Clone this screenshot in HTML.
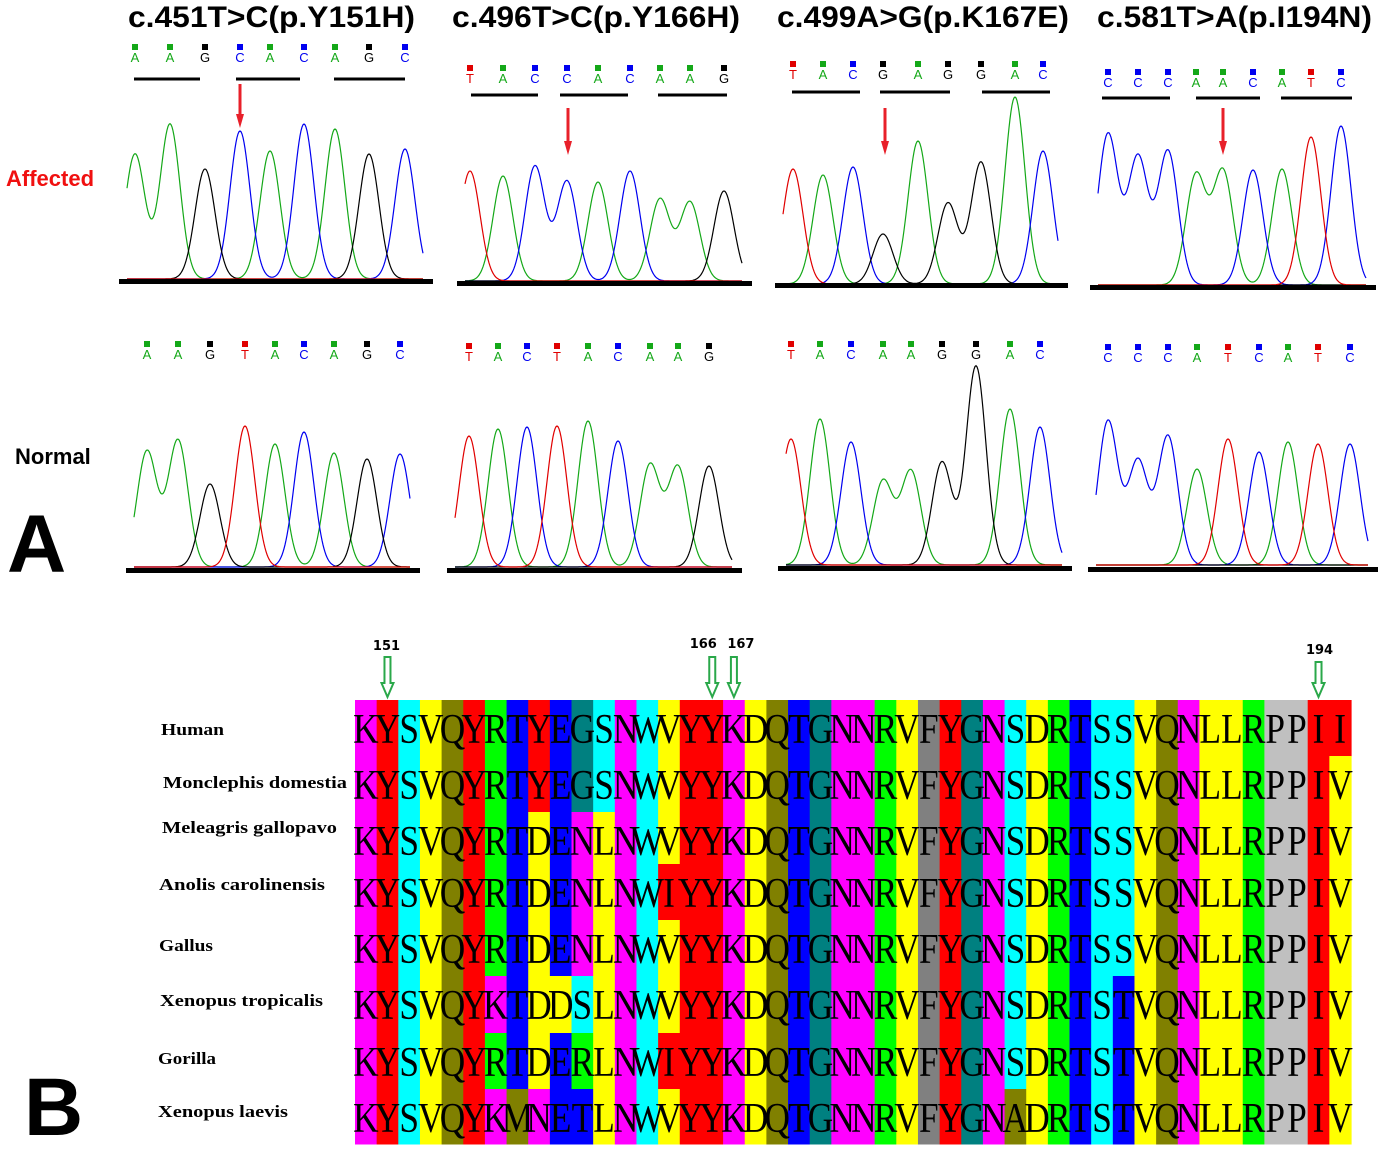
<!DOCTYPE html>
<html><head><meta charset="utf-8">
<style>
html,body{margin:0;padding:0;background:#fff;}
svg{display:block;}
</style></head>
<body>
<svg id="fig" width="1384" height="1152" viewBox="0 0 1384 1152" xmlns="http://www.w3.org/2000/svg">
<rect width="1384" height="1152" fill="#fff"/>
<g id="topPanel"></g>
<g id="bottomPanel"></g>
</svg>
<script>
// ---------- Panel A chromatogram data ----------
const titles = ["c.451T>C(p.Y151H)","c.496T>C(p.Y166H)","c.499A>G(p.K167E)","c.581T>A(p.I194N)"];
const titleX = [128,452,777,1097];
const titleW = [287,288,292,275];
const affBases = ["AAGCACAGC","TACCACAAG","TACGAGGAC","CCCAACATC"];
const affPeakX = [[135,170,205,240,270,304,335,369,405],[470,503,535,567,598,630,660,690,724],[793,823,853,883,918,948,981,1015,1043],[1108,1138,1168,1196,1223,1253,1282,1311,1341]];
const affPeakY = [[155,125,170,132,152,125,130,155,150],[172,177,167,182,183,172,200,203,192],[170,176,168,235,142,204,163,98,152],[135,158,152,176,172,171,170,138,127]];
const affLabelY = [47,68,64,72];
const affBase = [280,282,285,286];
const affBar = [[119,433,281],[457,752,283],[775,1068,285],[1090,1376,287]];
const affUnder = [[[134,200],[236,300],[334,405]],[[471,538],[560,628],[658,727]],[[792,860],[880,950],[982,1050]],[[1102,1170],[1196,1260],[1281,1352]]];
const affUnderY = [79,95,92,98];
const arrowX = [240,568,885,1223];
const arrowY = [[84,128],[108,155],[108,155],[108,155]];
const normBases = ["AAGTACAGC","TACTACAAG","TACAAGGAC","CCCATCATC"];
const normPeakX = [[147,178,210,245,275,304,334,367,400],[469,498,527,557,588,618,650,678,709],[791,820,851,883,911,942,976,1010,1040],[1108,1138,1168,1197,1228,1259,1288,1318,1350]];
const normPeakY = [[452,441,485,427,445,433,454,460,455],[437,430,428,427,422,442,466,468,467],[440,420,443,482,472,463,367,410,428],[422,462,437,470,440,453,443,445,445]];
const normLabelY = [344,346,344,347];
const normBase = [568,568,566,566];
const normBar = [[126,420,570],[447,742,570],[778,1072,568],[1088,1378,569]];

// ---------- Panel B alignment data ----------
const species = ["Human","Monclephis domestia","Meleagris gallopavo","Anolis carolinensis","Gallus","Xenopus tropicalis","Gorilla","Xenopus laevis"];
const seqs = [
"KYSVQYRTYEGSNWVYYKDQTGNNRVFYGNSDRTSSVQNLLRPPII",
"KYSVQYRTYEGSNWVYYKDQTGNNRVFYGNSDRTSSVQNLLRPPIV",
"KYSVQYRTDENLNWVYYKDQTGNNRVFYGNSDRTSSVQNLLRPPIV",
"KYSVQYRTDENLNWIYYKDQTGNNRVFYGNSDRTSSVQNLLRPPIV",
"KYSVQYRTDENLNWVYYKDQTGNNRVFYGNSDRTSSVQNLLRPPIV",
"KYSVQYKTDDSLNWVYYKDQTGNNRVFYGNSDRTSTVQNLLRPPIV",
"KYSVQYRTDERLNWIYYKDQTGNNRVFYGNSDRTSTVQNLLRPPIV",
"KYSVQYKMNETLNWVYYKDQTGNNRVFYGNADRTSTVQNLLRPPIV"];
const markLabels = ["151","166","167","194"];
const markCols = [1,16,17,44];

const NS="http://www.w3.org/2000/svg";
function mk(tag, attrs, parent, txt){
  const el=document.createElementNS(NS,tag);
  for(const k in attrs) el.setAttribute(k,attrs[k]);
  if(txt!==undefined) el.textContent=txt;
  parent.appendChild(el); return el;
}
const baseColor={A:"#14a818",C:"#0000f0",G:"#000000",T:"#e00000"};
const topG=document.getElementById('topPanel');
const bottomG=document.getElementById('bottomPanel');

function chromatogram(parent, bases, px, py, labelY, baseY, bar, name){
  const g=mk('g',{},parent);
  
  
  for(let i=0;i<bases.length;i++){
    const b=bases[i];
    const sq=mk('rect',{x:px[i]-3,y:labelY-3,width:6,height:6,fill:baseColor[b]},g);
    
    
    const t=mk('text',{x:px[i],y:labelY+15,'text-anchor':'middle','font-family':'Liberation Sans, sans-serif','font-size':13,fill:baseColor[b]},g,b);
    
    
  }
  const x0=bar[0]+8, x1=bar[1]-10, sig=10;
  for(const c of ["A","C","G","T"]){
    let d="";
    for(let x=x0;x<=x1;x+=1){
      let v=0;
      for(let i=0;i<bases.length;i++){
        if(bases[i]!==c) continue;
        const h=baseY-py[i];
        v+=h*Math.exp(-Math.pow(x-px[i],2)/(2*sig*sig));
      }
      const y=baseY-1-v;
      d+=(d?"L":"M")+x+" "+y.toFixed(1);
    }
    const p=mk('path',{d:d,fill:'none',stroke:baseColor[c],'stroke-width':1.2},g);
    
    
  }
  const br=mk('rect',{x:bar[0],y:bar[2]-2,width:bar[1]-bar[0],height:5,fill:'#000'},g);
  
  
  return g;
}

for(let k=0;k<4;k++){
  const t=mk('text',{x:titleX[k],y:27,'font-family':'Liberation Sans, sans-serif','font-weight':'bold','font-size':30,textLength:titleW[k],lengthAdjust:'spacingAndGlyphs',fill:'#000'},topG,titles[k]);
  
  
  const g=chromatogram(topG,affBases[k],affPeakX[k],affPeakY[k],affLabelY[k],affBase[k],affBar[k],'affected-chromatogram');
  for(const u of affUnder[k]){
    const r=mk('rect',{x:u[0],y:affUnderY[k]-1.5,width:u[1]-u[0],height:3,fill:'#000'},g);
    
    
  }
  const ax=arrowX[k], ay=arrowY[k];
  const ar=mk('path',{d:`M${ax-1.5} ${ay[0]}H${ax+1.5}V${ay[1]-14}L${ax+4} ${ay[1]-14}L${ax} ${ay[1]}L${ax-4} ${ay[1]-14}H${ax-1.5}Z`,fill:'#e8202a'},g);
  
  
  chromatogram(topG,normBases[k],normPeakX[k],normPeakY[k],normLabelY[k],normBase[k],normBar[k],'normal-chromatogram');
}
let lab;
lab=mk('text',{x:6,y:186,'font-family':'Liberation Sans, sans-serif','font-weight':'bold','font-size':22,fill:'#f01010'},topG,'Affected');


lab=mk('text',{x:15,y:464,'font-family':'Liberation Sans, sans-serif','font-weight':'bold','font-size':22,fill:'#000'},topG,'Normal');


lab=mk('text',{x:7,y:572,'font-family':'Liberation Sans, sans-serif','font-weight':'bold','font-size':82,fill:'#000'},topG,'A');


lab=mk('text',{x:24,y:1135,'font-family':'Liberation Sans, sans-serif','font-weight':'bold','font-size':82,fill:'#000'},bottomG,'B');



// ---------- alignment ----------
const resColor={K:"#ff00ff",N:"#ff00ff",Y:"#ff0000",I:"#ff0000",S:"#00ffff",W:"#00ffff",V:"#ffff00",D:"#ffff00",L:"#ffff00",Q:"#808000",M:"#808000",A:"#808000",R:"#00ff00",T:"#0000ff",E:"#0000ff",G:"#008080",F:"#808080",P:"#c0c0c0"};
const ax0=355, ax1=1351, ncol=seqs[0].length, cw=(ax1-ax0)/ncol;
const rowB=[700,756,812,864,920,976,1033,1089,1144];
const labelBase=[735,788,833,890,951,1006,1064,1117];
const labelX=[161,163,162,159,159,160,158,158];
const labelW=[63,184,175,166,54,163,58,130];
const xCol=i=>ax0+i*cw;
const cells=mk('g',{},bottomG);


for(let r=0;r<seqs.length;r++){
  const y0=rowB[r], y1=rowB[r+1];
  for(let i=0;i<ncol;i++){
    const ch=seqs[r][i];
    const c=mk('rect',{x:xCol(i).toFixed(2),y:y0,width:(cw+0.6).toFixed(2),height:y1-y0+0.5,fill:resColor[ch]||'#fff'},cells);
    
    
  }
}
for(let r=0;r<seqs.length;r++){
  const by=rowB[r]+43;
  for(let i=0;i<ncol;i++){
    const ch=seqs[r][i];
    const t=mk('text',{transform:`translate(${(xCol(i)+cw/2).toFixed(2)},${by}) scale(0.84,1)`,'text-anchor':'middle','font-family':'Liberation Serif, serif','font-size':42,fill:'#000'},cells,ch);
    
    
  }
  const s=mk('text',{x:labelX[r],y:labelBase[r],'font-family':'Liberation Serif, serif','font-weight':'bold','font-size':17,textLength:labelW[r],lengthAdjust:'spacingAndGlyphs',fill:'#000'},bottomG,species[r]);
  
  
}
const markTop=[657,657,657,662];
const numY=[650,648,648,654];
const numDx=[0,-8,8,2];
for(let m=0;m<markLabels.length;m++){
  const cx=xCol(markCols[m])+cw/2;
  const t=mk('text',{x:cx-1+numDx[m],y:numY[m],'text-anchor':'middle','font-family':'DejaVu Sans, Liberation Sans, sans-serif','font-weight':'bold','font-size':13,fill:'#000'},bottomG,markLabels[m]);
  
  
  const y0=markTop[m], y1=697;
  const a=mk('path',{d:`M${cx-3} ${y0}H${cx+3}V${y1-14}H${cx+6}L${cx} ${y1}L${cx-6} ${y1-14}H${cx-3}Z`,fill:'#fff',stroke:'#2aa84a','stroke-width':2},bottomG);
  
  
}
</script>
</body></html>
